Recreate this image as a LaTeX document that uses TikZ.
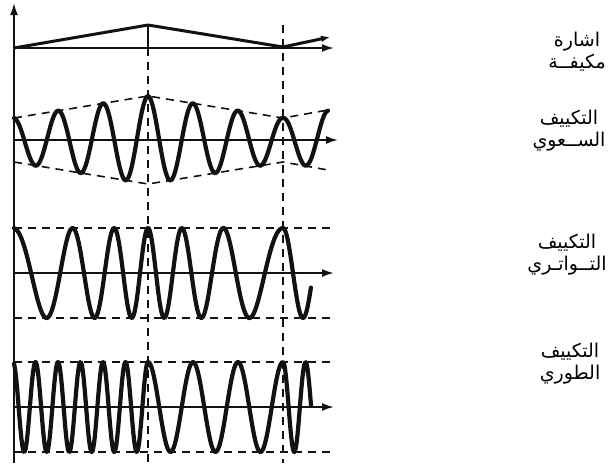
\documentclass[tikz,border=0pt]{standalone}
\usepackage{fontspec}
\usepackage{tikz}
\usetikzlibrary{arrows.meta}
\newfontfamily\arabicfont[Script=Arabic]{DejaVu Sans}
\TeXXeTstate=1
\definecolor{inkblack}{RGB}{18,18,18}

\begin{document}
\begin{tikzpicture}[x=1pt,y=-1pt,
    axis/.style={line width=1.9pt,inkblack,-{Latex[length=12pt,width=8pt]}},
    guide/.style={line width=1.6pt,inkblack,dash pattern=on 8pt off 6pt},
    wave/.style={line width=4.2pt,inkblack,line join=round,line cap=round},
    lbl/.style={font=\arabicfont\fontsize{19}{22}\selectfont,align=center,inner sep=0pt}]
  \useasboundingbox (0,0) rectangle (609,467);
  % time axis and the two markers
  \draw[axis] (14,463) -- (14,3);
  \draw[guide] (148,48) -- (148,463);
  \draw[guide] (283,25) -- (283,463);
  % modulating signal
  \draw[axis] (14,48) -- (334,48);
  \draw[line width=1.9pt,inkblack] (148,25) -- (148,48);
  \draw[line width=3pt,inkblack,line join=round,-{Latex[length=9pt,width=7pt]}]
    (14,48) -- (148,25) -- (283,47) -- (330,37);
  % amplitude (carrier period 45, so 8 degrees per unit)
  \draw[axis] (14,140) -- (338,140);
  \draw[guide] (14,118) -- (148,96) -- (283,118) -- (328,110);
  \draw[guide] (14,162) -- (148,184) -- (283,162) -- (328,170);
  \draw[wave] plot[domain=14:328,samples=320]
    (\x,{140-(22+22*(1-abs(mod(\x-13,270)-135)/135))*cos(8*(\x-13))});
  % frequency
  \draw[axis] (14,273) -- (334,273);
  \draw[guide] (14,228) -- (332,228);
  \draw[guide] (14,318) -- (332,318);
  \draw[wave] plot[domain=0.0074:1,samples=140,variable=\t]
      ({13+135*\t},{273-45*cos(360*(1.6875*\t+1.3125*\t*\t))})
    -- plot[domain=1:2,samples=140,variable=\t]
      ({13+135*\t},{273-45*cos(360*(3+4.3125*(\t-1)-1.3125*(\t-1)*(\t-1)))})
    -- plot[domain=2:2.207,samples=30,variable=\t]
      ({13+135*\t},{273-45*cos(360*(6+3.375*(\t-2)))});
  % phase
  \draw[axis] (14,407) -- (334,407);
  \draw[guide] (14,362) -- (332,362);
  \draw[guide] (14,452) -- (332,452);
  \draw[wave] plot[domain=14:148,samples=220] (\x,{407-45*cos(16*(\x-13))})
    -- plot[domain=148:283,samples=120] (\x,{407-45*cos(8*(\x-148))})
    -- plot[domain=283:311,samples=40] (\x,{407-45*cos(16*(\x-283))});
  % labels
  \node[lbl] (modsig) at (577,52) {\beginR اشارة\endR\\\beginR مكيفــة\endR};
  \node[lbl] (amlbl) at (569,131) {\beginR التكييف\endR\\\beginR الســعوي\endR};
  \node[lbl] (fmlbl) at (567,255) {\beginR التكييف\endR\\\beginR التــواتـري\endR};
  \node[lbl] (pmlbl) at (570,364) {\beginR التكييف\endR\\\beginR الطوري\endR};
\end{tikzpicture}
\end{document}
